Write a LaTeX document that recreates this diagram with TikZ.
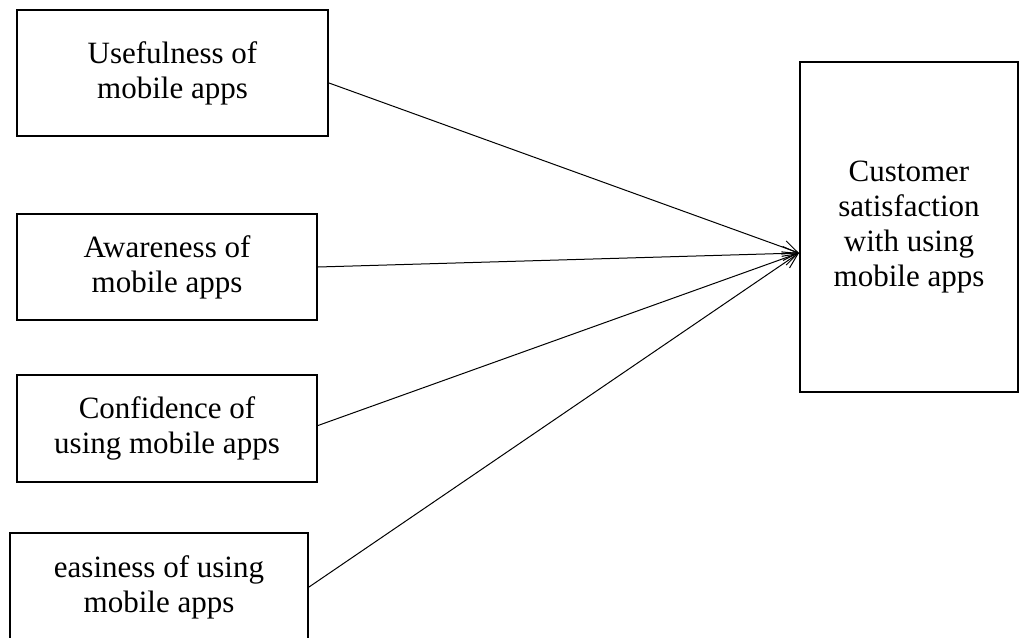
\documentclass[tikz,border=0pt]{standalone}
\usepackage{fontspec}
\setmainfont{Liberation Serif}
\usetikzlibrary{arrows.meta}

\begin{document}
\begin{tikzpicture}[
    x=1pt, y=-1pt,
    >={Straight Barb[length=15pt,width=14pt]},
    link/.style={->, draw=black, line width=1pt},
    box/.style={draw=black, line width=2pt, align=center, inner sep=0pt,
                font=\fontsize{31}{35}\selectfont},
  ]
  \useasboundingbox (0,0) rectangle (1027,637);

  %% ---------------- factors ----------------
  \node[box, minimum width=311pt, minimum height=126pt] (usef) at (172.5,73)
    {Usefulness of\\mobile apps};
  \node[box, minimum width=300pt, minimum height=106pt] (aware) at (167,267)
    {Awareness of\\mobile apps};
  \node[box, minimum width=300pt, minimum height=107pt] (conf) at (167,428.5)
    {Confidence of\\using mobile apps};
  \node[box, minimum width=298pt, minimum height=108pt] (easy) at (159,587)
    {easiness of using\\mobile apps};

  %% ---------------- outcome ----------------
  \node[box, minimum width=218pt, minimum height=330pt] (sat) at (909,227)
    {Customer\\satisfaction\\with using\\mobile apps};
  \coordinate (tip) at ([yshift=-26pt]sat.west);

  %% ---------------- arrows ----------------
  \draw[link] ([yshift=-10pt]usef.east) -- (tip);
  \draw[link] (aware.east) -- (tip);
  \draw[link] ([yshift=3pt]conf.east) -- (tip);
  \draw[link] (easy.east) -- (tip);

\end{tikzpicture}
\end{document}
